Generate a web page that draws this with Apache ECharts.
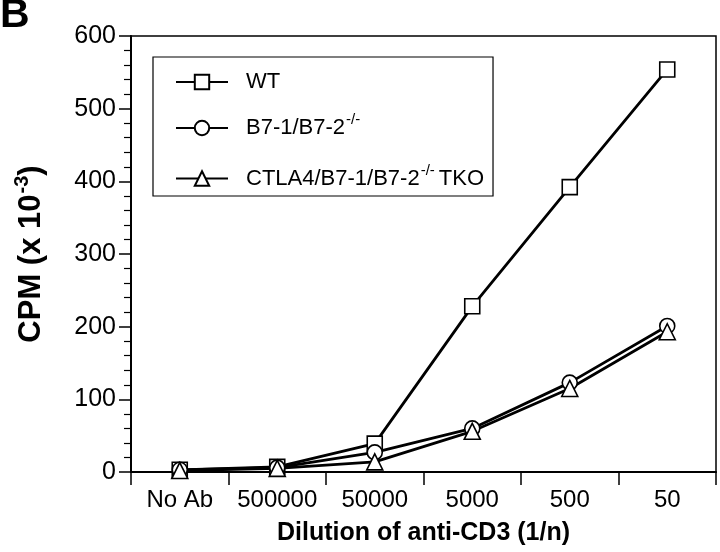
<!DOCTYPE html>
<html>
<head>
<meta charset="utf-8">
<script src="https://cdn.jsdelivr.net/npm/echarts@6/dist/echarts.min.js"></script>
<style>html,body{margin:0;padding:0;background:#fff}#c{width:720px;height:552px}</style>
</head>
<body>
<div id="c"></div>
<script>
var categories = ['No Ab', '500000', '50000', '5000', '500', '50'];
var wtValues = [3, 7, 39, 228, 392, 554];
var b7Values = [3, 6, 27, 60, 123, 201];
var tkoValues = [2, 5, 14, 56, 115, 193];
var seriesNames = ['WT', 'B7-1/B7-2', 'CTLA4/B7-1/B7-2'];
var yTicks = [0, 100, 200, 300, 400, 500, 600];

var FONT = "'Liberation Sans', Arial, Helvetica, sans-serif";
var chart = echarts.init(document.getElementById('c'), null, {renderer: 'canvas'});

function mkSeries(name, data, symbol, size) {
  return {
    name: name, type: 'line', data: data,
    symbol: symbol, symbolSize: size,
    showAllSymbol: true,
    lineStyle: {color: '#000', width: 2.8},
    itemStyle: {color: '#fff', borderColor: '#000', borderWidth: 1.6},
    emphasis: {disabled: true},
    z: 3
  };
}

var option = {
  animation: false,
  backgroundColor: '#fff',
  textStyle: {fontFamily: FONT, color: '#000'},
  graphic: [{
    type: 'text', left: 0, top: -5,
    style: {text: 'B', font: "bold 41px " + FONT, fill: '#000'}
  }],
  grid: {left: 131, right: 4, top: 36, bottom: 80, show: true, borderColor: '#000', borderWidth: 1.5},
  legend: {
    orient: 'vertical', left: 153, top: 57,
    backgroundColor: '#fff',
    borderColor: '#000', borderWidth: 1.2, borderRadius: 0,
    padding: [14, 9, 2, 22],
    itemWidth: 52, itemHeight: 18, itemGap: 19.5,
    data: seriesNames,
    formatter: function (n) {
      if (n === 'WT') return '{t|WT}';
      if (n === 'B7-1/B7-2') return '{t|B7-1/B7-2}{s|-/-}';
      return '{t|CTLA4/B7-1/B7-2}{s|-/-}{u|TKO}';
    },
    textStyle: {
      fontFamily: FONT, color: '#000', fontSize: 22,
      rich: {
        t: {fontFamily: FONT, fontSize: 22, color: '#000', padding: [0, 0, 0, 13], lineHeight: 24},
        s: {fontFamily: FONT, fontSize: 15, color: '#000', padding: [0, 0, 16, 1], lineHeight: 24},
        u: {fontFamily: FONT, fontSize: 22, color: '#000', padding: [0, 0, 0, 4], lineHeight: 24}
      }
    }
  },
  xAxis: {
    type: 'category', data: categories, boundaryGap: true,
    axisLine: {show: true, lineStyle: {color: '#000', width: 2}},
    axisTick: {show: true, inside: false, length: 13, interval: 0, lineStyle: {color: '#000', width: 1.5}},
    axisLabel: {fontFamily: FONT, fontSize: 24, color: '#000', margin: 16, interval: 0, hideOverlap: false},
    name: 'Dilution of anti-CD3 (1/n)', nameLocation: 'middle', nameGap: 49,
    nameTextStyle: {fontFamily: FONT, fontSize: 25, fontWeight: 'bold', color: '#000'},
    splitLine: {show: false}
  },
  yAxis: {
    type: 'value', min: 0, max: 600, interval: 100,
    axisLine: {show: true, lineStyle: {color: '#000', width: 2}},
    axisTick: {show: true, inside: false, length: 12, lineStyle: {color: '#000', width: 1.5}},
    minorTick: {show: true, splitNumber: 5, length: 7, lineStyle: {color: '#000', width: 1.2}},
    axisLabel: {fontFamily: FONT, fontSize: 25, color: '#000', margin: 15,
      formatter: function (v) { return yTicks.indexOf(v) >= 0 ? String(v) : ''; }},
    splitLine: {show: false},
    name: '{m|CPM (x 10}{s|-3}{m|)}', nameLocation: 'middle', nameRotate: 90, nameGap: 84,
    nameTextStyle: {
      fontFamily: FONT, fontSize: 31, fontWeight: 'bold', color: '#000',
      rich: {
        m: {fontFamily: FONT, fontSize: 31, fontWeight: 'bold', color: '#000', lineHeight: 32},
        s: {fontFamily: FONT, fontSize: 20, fontWeight: 'bold', color: '#000', padding: [0, 0, 18, 1], lineHeight: 32}
      }
    }
  },
  series: [
    mkSeries(seriesNames[0], wtValues, 'rect', 15),
    mkSeries(seriesNames[1], b7Values, 'circle', 15),
    mkSeries(seriesNames[2], tkoValues, 'triangle', 16)
  ]
};
chart.setOption(option);
</script>
</body>
</html>
